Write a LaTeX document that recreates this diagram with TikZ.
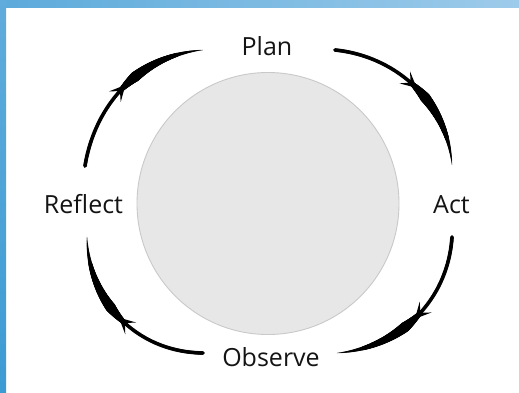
\documentclass[tikz,border=0pt]{standalone}
\usepackage{fontspec}
\setmainfont{Open Sans}
\usetikzlibrary{decorations.markings}
\definecolor{discfill}{HTML}{E7E7E7}
\definecolor{discline}{HTML}{C9C9C9}
\definecolor{barTopL}{RGB}{92,170,219}
\definecolor{barTopR}{RGB}{158,203,234}
\definecolor{barSideT}{RGB}{96,172,220}
\definecolor{barSideB}{RGB}{60,155,211}
\definecolor{inktext}{HTML}{141414}
\begin{document}
\begin{tikzpicture}[x=1pt,y=-1pt,
  stagetext/.style={font=\fontsize{25}{29}\selectfont, text=inktext, anchor=base, inner sep=0pt},
  % tapering body of a cycle arrow
  swoosh/.style={postaction={decorate, decoration={markings,
    mark=between positions 0 and 1 step 0.003 with {
      \pgfmathsetmacro\swp{\pgfkeysvalueof{/pgf/decoration/mark info/distance from start}/\pgfdecoratedpathlength}
      \pgfmathsetmacro\swr{\swp<0.46 ? 1.9 : (\swp<0.58 ? 1.9+(\swp-0.46)*27 : 5.1*(1-\swp)/0.42+0.12)}
      \fill[black] (0pt,0pt) circle[radius=\swr pt];
    }}},
    % barbed head part way along
    postaction={decorate, decoration={markings,
    mark=at position 0.47 with {
      \fill[black] (8pt,0pt) -- (-8pt,8pt) -- (-2pt,1.9pt) -- (-2pt,-1.9pt) -- (-8pt,-8pt) -- cycle;
    }}}}
]
\useasboundingbox (0,0) rectangle (519,392);
% page and frame strips
\fill[white] (0,0) rectangle (519,392);
\shade[left color=barTopL, right color=barTopR] (0,0) rectangle (519,7);
\shade[top color=barSideT, bottom color=barSideB] (0,0) rectangle (6,392);

% central disc
\node[circle, minimum size=262pt, fill=discfill, draw=discline, line width=0.9pt, inner sep=0pt] (disc) at (268,203.5) {};

% stage labels
\node[stagetext] (plan) at (267,55) {Plan};
\node[stagetext] (act) at (451.5,213) {Act};
\node[stagetext] (observe) at (271,366.5) {Observe};
\node[stagetext] (reflect) at (83.5,213) {Reflect};

% ends of the cycle arrows
\coordinate (rp0) at (85,166);  \coordinate (rp1) at (203,50);
\coordinate (pa0) at (335,50);  \coordinate (pa1) at (452,165);
\coordinate (ao0) at (452,237); \coordinate (ao1) at (337,353);
\coordinate (or0) at (203,353); \coordinate (or1) at (87,237);

% cycle arrows: Reflect -> Plan -> Act -> Observe -> Reflect
\path[swoosh] (rp0) .. controls (95,104) and (140,55) .. (rp1);
\path[swoosh] (pa0) .. controls (395,56) and (447,101) .. (pa1);
\path[swoosh] (ao0) .. controls (448,300) and (400,348) .. (ao1);
\path[swoosh] (or0) .. controls (135,352) and (88,300) .. (or1);
\end{tikzpicture}
\end{document}
